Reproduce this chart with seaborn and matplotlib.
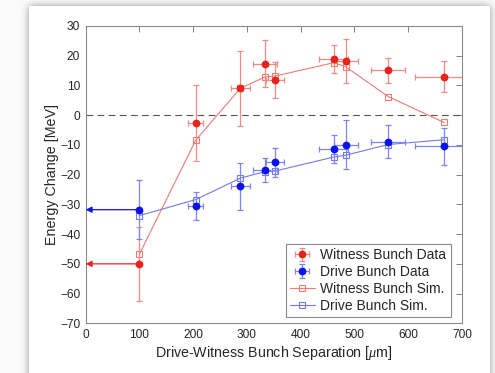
import numpy as np
import pandas as pd
import matplotlib
matplotlib.use("Agg")
import matplotlib.pyplot as plt
import seaborn as sns

# Bunch separation [um] and horizontal uncertainty
separation = [100, 205, 288, 334, 353, 462, 484, 563, 667]
separation_err = [0, 14, 17, 23, 17, 27, 22, 32, 54]

# Measured energy change [MeV]
witness_data = [-50.0, -2.7, 9.0, 17.3, 11.7, 18.8, 18.1, 15.1, 12.8]
witness_err = [12.4, 12.7, 12.6, 8.0, 6.1, 4.6, 7.3, 4.2, 5.2]
drive_data = [-31.8, -30.6, -23.9, -18.5, -15.9, -11.4, -9.9, -8.9, -10.5]
drive_err = [9.9, 4.8, 7.9, 3.9, 4.9, 4.7, 8.2, 5.6, 6.3]

# Simulated energy change [MeV]
witness_sim = [-46.8, -8.4, 9.0, 12.8, 13.1, 17.6, 16.2, 6.2, -2.5]
drive_sim = [-33.8, -28.4, -21.2, -19.0, -18.8, -14.1, -13.5, -9.9, -8.3]

x_ticks = [0, 100, 200, 300, 400, 500, 600, 700]
y_ticks = [-70, -60, -50, -40, -30, -20, -10, 0, 10, 20, 30]

sns.set_theme(style="white")
plt.rcParams["font.family"] = ["Liberation Sans", "DejaVu Sans"]
plt.rcParams["mathtext.fontset"] = "custom"
plt.rcParams["mathtext.it"] = "Liberation Serif:italic"

W, H = 495, 373
fig = plt.figure(figsize=(W / 100, H / 100), dpi=100)

# Card with a soft drop shadow behind the plot
def gauss_blur(img, sigma):
    r = int(3 * sigma)
    k = np.exp(-0.5 * (np.arange(-r, r + 1) / sigma) ** 2)
    k /= k.sum()
    img = np.apply_along_axis(lambda v: np.convolve(np.pad(v, r, mode="edge"), k, mode="valid"), 0, img)
    img = np.apply_along_axis(lambda v: np.convolve(np.pad(v, r, mode="edge"), k, mode="valid"), 1, img)
    return img

card = np.zeros((H, W))
card[6:, 29:490] = 1.0
shadow = gauss_blur(card, 4.0)
bg = 0.985 - 0.42 * shadow
bg[card > 0] = 1.0
bg_ax = fig.add_axes([0, 0, 1, 1], zorder=-10)
bg_ax.imshow(np.dstack([bg, bg, bg]), extent=[0, W, 0, H], aspect="auto", interpolation="bilinear")
bg_ax.axis("off")

ax = fig.add_axes([0.173, 0.133, 0.760, 0.798])
ax.set_facecolor("white")

red = "#e8231b"
red_err = "#ef8c86"
red_sim = "#f07a74"
blue = "#0a12f2"
blue_err = "#7d85ef"
blue_sim = "#7179f0"

ax.axhline(0, color="#555555", lw=0.8, dashes=(6, 4), zorder=1)

sim = pd.DataFrame({"sep": separation, "witness": witness_sim, "drive": drive_sim})
sns.lineplot(data=sim, x="sep", y="witness", ax=ax, color=red_sim, lw=0.8, marker="s",
             markersize=4.3, markerfacecolor="none", markeredgecolor=red_sim,
             markeredgewidth=0.8, label="Witness Bunch Sim.", zorder=2)
sns.lineplot(data=sim, x="sep", y="drive", ax=ax, color=blue_sim, lw=0.8, marker="s",
             markersize=4.3, markerfacecolor="none", markeredgecolor=blue_sim,
             markeredgewidth=0.8, label="Drive Bunch Sim.", zorder=2)

ax.errorbar(separation, witness_data, yerr=witness_err, xerr=separation_err,
            fmt="o", color=red, ms=4.6, ecolor=red_err, elinewidth=0.9,
            capsize=2.4, capthick=0.9, label="Witness Bunch Data", zorder=3)
ax.errorbar(separation, drive_data, yerr=drive_err, xerr=separation_err,
            fmt="o", color=blue, ms=4.6, ecolor=blue_err, elinewidth=0.9,
            capsize=2.4, capthick=0.9, label="Drive Bunch Data", zorder=3)

# Arrows from the first data points to the energy axis
ax.annotate("", xy=(0, witness_data[0]), xytext=(separation[0], witness_data[0]),
            arrowprops=dict(arrowstyle="-|>", color=red, lw=0.9, mutation_scale=9,
                            shrinkA=0, shrinkB=0), zorder=3)
ax.annotate("", xy=(0, drive_data[0]), xytext=(separation[0], drive_data[0]),
            arrowprops=dict(arrowstyle="-|>", color=blue, lw=0.9, mutation_scale=9,
                            shrinkA=0, shrinkB=0), zorder=3)

ax.set_xlim(0, 700)
ax.set_ylim(-70, 30)
ax.set_xticks(x_ticks)
ax.set_yticks(y_ticks)
ax.tick_params(direction="in", length=4, width=0.7, color="#7f7f7f",
               top=True, right=True, labelsize=8.6, labelcolor="#262626", pad=4)
for s in ax.spines.values():
    s.set_color("#8a8a8a")
    s.set_linewidth(0.8)

ax.set_xlabel(r"Drive-Witness Bunch Separation [$\mu$m]", fontsize=10.3, color="#262626", labelpad=2)
ax.set_ylabel("Energy Change [MeV]", fontsize=10.3, color="#262626", labelpad=1)

handles, labels = ax.get_legend_handles_labels()
order = ["Witness Bunch Data", "Drive Bunch Data", "Witness Bunch Sim.", "Drive Bunch Sim."]
hmap = dict(zip(labels, handles))
leg = ax.legend([hmap[k] for k in order], order, loc="lower right", fontsize=10,
                frameon=True, fancybox=False, edgecolor="#8a8a8a", framealpha=1,
                borderpad=0.3, labelspacing=0.2, handlelength=1.8, handletextpad=0.4,
                borderaxespad=0, bbox_to_anchor=(0.97, 0.022))
leg.get_frame().set_linewidth(0.8)

fig.savefig("out.png", dpi=100)
